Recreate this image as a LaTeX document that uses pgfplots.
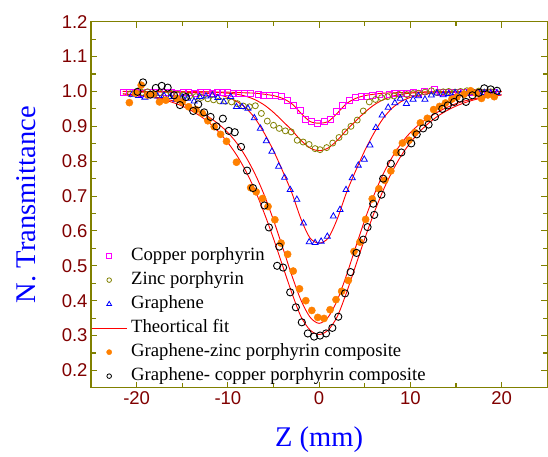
\documentclass[border=0pt]{standalone}
\usepackage{fontspec}
\setmainfont{Liberation Serif}
\newfontfamily\arialf{Liberation Sans}
\usepackage{pgfplots}
\pgfplotsset{compat=1.18}
\definecolor{axolive}{RGB}{128,128,0}
\definecolor{tickred}{RGB}{128,0,0}
\definecolor{orng}{RGB}{255,128,0}
\definecolor{magc}{RGB}{255,0,255}
\definecolor{olv}{RGB}{128,128,0}
\begin{document}
\begin{tikzpicture}
\begin{axis}[name=ax, scale only axis, width=456pt, height=366pt,
  xmin=-25, xmax=25, ymin=0.15, ymax=1.2,
  xtick={-20,-10,0,10,20}, minor xtick={-15,-5,5,15},
  ytick={0.2,0.3,0.4,0.5,0.6,0.7,0.8,0.9,1.0,1.1,1.2},
  minor ytick={0.25,0.35,0.45,0.55,0.65,0.75,0.85,0.95,1.05,1.15},
  tick align=inside, major tick length=6pt, minor tick length=4.5pt,
  axis line style={axolive, line width=1.3pt},
  every tick/.style={axolive, line width=1.1pt},
  ticklabel style={font=\arialf\fontsize{18.5}{20}\selectfont, text=tickred},
  /pgf/number format/assume math mode=true,
  yticklabel style={/pgf/number format/.cd, fixed, fixed zerofill, precision=1},
  xlabel={Z (mm)}, ylabel={N. Transmittance},
  label style={font=\fontsize{28.5}{30}\selectfont, text=blue},
  xlabel style={at={(axis description cs:0.5,0)}, anchor=base, yshift=-59pt},
  ylabel style={at={([xshift=-56pt]axis description cs:0,0.5)}, anchor=base},
  legend style={at={(0,0)}, anchor=south west, xshift=-3pt, yshift=-1pt, draw=none, fill=none,
    font=\fontsize{18.7}{20}\selectfont, row sep=3pt, column sep=2pt,
    nodes={text height=13pt, text depth=4pt, inner sep=2pt}},
  legend cell align=left,
  legend image code/.code={\draw[mark repeat=2,mark phase=2,#1] plot coordinates {(0pt,0pt) (17.5pt,0pt) (35pt,0pt)};},
]
% Copper porphyrin
\addplot[forget plot, only marks, mark=square, mark size=3pt, draw=magc, mark options={line width=0.8pt}] coordinates {
(-21.4,0.998) (-20.8,0.996) (-20.1,0.997) (-19.5,0.995) (-18.8,0.998) (-18.2,0.997) (-17.5,0.996)
(-16.9,0.998) (-16.2,0.997) (-15.6,0.995) (-14.9,0.996) (-14.3,0.997) (-13.6,0.995) (-13.0,0.996)
(-12.3,0.997) (-11.7,0.995) (-11.1,0.996) (-10.6,0.996) (-10.1,0.997) (-9.4,0.995) (-8.8,0.995)
(-8.2,0.995) (-7.5,0.993) (-6.7,0.992) (-6.1,0.990) (-5.5,0.988) (-4.8,0.988) (-4.1,0.985)
(-3.5,0.975) (-2.8,0.961) (-2.1,0.946) (-1.5,0.921) (-0.8,0.913) (-0.15,0.908) (0.58,0.915)
(1.24,0.920) (1.86,0.943) (2.58,0.959) (3.28,0.975) (3.93,0.982) (4.59,0.985) (5.2,0.987)
(5.83,0.988) (6.66,0.991) (7.75,0.992) (8.3,0.995) (9.0,0.993) (9.6,0.995) (10.3,0.996)
(10.9,0.994) (11.57,1.001) (12.66,1.006) (13.3,0.997) (14.0,0.998) (14.6,0.996) (15.3,0.997)
(15.9,0.998) (16.6,0.996) (17.2,0.997) (17.9,0.998) (18.5,0.997) (19.1,0.996)};
% Zinc porphyrin
\addplot[forget plot, only marks, mark=o, mark size=3pt, draw=olv, mark options={line width=0.8pt}] coordinates {
(-20.7,0.993) (-20.1,0.996) (-19.4,0.997) (-18.8,0.999) (-18.1,0.991) (-17.5,0.996) (-16.8,0.990)
(-16.2,0.994) (-15.5,0.992) (-14.85,0.990) (-14.2,0.987) (-13.5,0.985) (-12.9,0.983) (-12.2,0.979)
(-11.57,0.976) (-10.9,0.973) (-10.26,0.972) (-9.6,0.970) (-8.95,0.965) (-8.3,0.958) (-7.64,0.956)
(-6.99,0.959) (-6.33,0.937) (-5.68,0.915) (-5.0,0.903) (-4.37,0.894) (-3.7,0.887) (-3.06,0.884)
(-2.4,0.860) (-1.75,0.855) (-1.1,0.848) (-0.44,0.836) (0.1,0.833) (0.83,0.839) (1.49,0.852)
(2.18,0.868) (2.84,0.884) (3.49,0.900) (4.18,0.918) (4.84,0.944) (5.5,0.970) (6.18,0.977)
(6.83,0.982) (7.5,0.985) (8.2,0.987) (8.8,0.991) (9.6,0.991) (10.3,0.994) (10.9,0.995)
(11.6,0.998) (12.3,1.002) (12.9,0.997) (13.6,0.999) (14.2,1.000) (14.9,0.998) (15.5,1.000)
(16.2,1.002) (16.8,0.999) (17.5,1.001) (18.1,0.998) (18.8,0.999)};
% Graphene
\addplot[forget plot, only marks, mark=triangle, mark size=3.5pt, draw=blue, mark options={line width=0.8pt}] coordinates {
(-20.5,0.991) (-19.8,0.988) (-19.1,0.983) (-18.4,0.987) (-17.7,0.986) (-17.0,0.988) (-16.3,0.985)
(-15.7,0.977) (-15.0,0.983) (-14.4,0.980) (-13.7,0.972) (-13.1,0.985) (-12.4,0.986) (-11.7,0.989)
(-11.1,0.982) (-10.45,0.970) (-9.7,0.985) (-9.06,0.956) (-8.45,0.956) (-7.8,0.951) (-7.1,0.924)
(-6.44,0.894) (-5.79,0.858) (-5.17,0.828) (-4.44,0.785) (-3.79,0.753) (-3.17,0.718) (-2.44,0.690)
(-1.71,0.622) (-1.09,0.568) (-0.44,0.566) (0.22,0.570) (0.9,0.584) (1.56,0.642) (2.29,0.661)
(2.95,0.718) (3.63,0.752) (4.29,0.788) (4.95,0.805) (5.57,0.846) (6.22,0.896) (6.91,0.932)
(7.57,0.954) (8.3,0.967) (8.9,0.980) (9.57,0.965) (10.3,0.977) (10.9,0.987) (11.6,0.977)
(12.3,0.989) (12.9,0.995) (13.6,0.990) (14.2,0.993) (14.9,0.996) (15.5,0.992) (16.2,0.995)
(16.8,0.997) (17.5,0.994) (18.1,0.996) (18.8,0.995) (19.5,0.996)};
% Graphene-zinc porphyrin composite
\addplot[forget plot, only marks, mark=*, mark size=3.6pt, draw=orng, fill=orng] coordinates {
(-20.8,0.968) (-20.1,0.995) (-19.5,1.018) (-18.8,0.990) (-18.2,0.992) (-17.5,0.970) (-16.8,0.975)
(-15.6,0.980) (-15.0,0.970) (-14.3,0.956) (-13.5,0.948) (-12.8,0.937) (-12.2,0.916) (-11.5,0.899)
(-10.8,0.877) (-10.15,0.857) (-9.06,0.797) (-7.5,0.724) (-6.9,0.712) (-6.2,0.693) (-5.6,0.670)
(-4.85,0.632) (-4.17,0.565) (-3.45,0.533) (-2.84,0.485) (-2.15,0.434) (-1.46,0.400) (-0.8,0.372)
(-0.15,0.352) (0.54,0.349) (1.2,0.374) (1.85,0.403) (2.47,0.427) (3.2,0.458) (3.82,0.541)
(4.47,0.568) (5.1,0.633) (5.82,0.692) (6.55,0.721) (7.2,0.745) (7.86,0.772) (8.47,0.825)
(9.13,0.852) (9.86,0.860) (10.5,0.882) (11.1,0.910) (11.86,0.923) (12.55,0.948) (13.2,0.957)
(13.85,0.967) (14.55,0.978) (15.1,0.984) (15.9,0.992) (16.6,1.002) (17.2,0.995) (17.8,0.980)
(18.5,0.990) (19.2,0.985)};
% Graphene- copper porphyrin composite
\addplot[forget plot, only marks, mark=o, mark size=3.6pt, draw=black, mark options={line width=0.9pt}] coordinates {
(-19.9,0.999) (-19.3,1.026) (-18.5,0.991) (-17.9,1.010) (-17.25,1.016) (-16.6,1.011) (-15.9,0.989)
(-15.25,0.961) (-14.6,0.984) (-13.8,0.944) (-13.25,0.963) (-12.6,0.940) (-11.9,0.927) (-11.25,0.900)
(-10.55,0.922) (-9.9,0.887) (-9.25,0.883) (-8.56,0.841) (-7.9,0.773) (-7.25,0.723) (-6.0,0.673)
(-5.5,0.610) (-4.6,0.500) (-4.37,0.555) (-3.95,0.495) (-3.17,0.424) (-2.55,0.381) (-1.9,0.338)
(-1.24,0.306) (-0.55,0.297) (0.1,0.300) (0.76,0.306) (1.45,0.322) (2.1,0.354) (2.84,0.421)
(3.45,0.482) (4.1,0.537) (4.84,0.575) (5.31,0.611) (5.93,0.678) (6.04,0.646) (6.83,0.704)
(7.02,0.750) (7.86,0.793) (9.02,0.825) (10.1,0.851) (10.7,0.877) (11.4,0.894) (12.0,0.905)
(12.7,0.927) (13.5,0.950) (14.1,0.960) (14.8,0.970) (15.4,0.980) (16.1,0.970) (16.8,0.989)
(17.5,0.996) (18.1,1.009) (18.8,1.006) (19.5,1.002)};
% Theoretical fits
\addplot[forget plot, draw=red, line width=0.9pt, smooth] coordinates {
(-21.5,1.0) (-20,1.0) (-18,0.999) (-16,0.999) (-14,0.999) (-12,0.999) (-11,0.998) (-10,0.998)
(-9,0.997) (-8,0.996) (-7,0.995) (-6,0.992) (-5,0.988) (-4,0.980) (-3,0.965) (-2,0.938) (-1,0.914)
(0,0.909) (1,0.914) (2,0.938) (3,0.965) (4,0.980) (5,0.988) (6,0.992) (7,0.995) (8,0.996)
(9,0.997) (10,0.998) (11,0.998) (12,0.999) (14,0.999) (16,0.999) (18,1.0) (20,1.0)};
\addplot[forget plot, draw=red, line width=0.9pt, smooth] coordinates {
(-21.5,1.0) (-20,0.999) (-18,0.999) (-16,0.999) (-14,0.999) (-13,0.999) (-12,0.998) (-11,0.997)
(-10,0.995) (-9,0.992) (-8,0.986) (-7,0.976) (-6,0.961) (-5,0.940) (-4,0.915) (-3,0.889)
(-2,0.860) (-1,0.838) (0,0.830) (1,0.838) (2,0.860) (3,0.889) (4,0.915) (5,0.940) (6,0.961)
(7,0.976) (8,0.986) (9,0.992) (10,0.995) (11,0.997) (12,0.998) (13,0.999) (14,0.999) (16,0.999)
(18,0.999) (20,1.0)};
\addplot[forget plot, draw=red, line width=0.9pt, smooth] coordinates {
(-21.5,1.0) (-20,0.999) (-18,0.999) (-17,0.999) (-16,0.998) (-15,0.998) (-14,0.997) (-13,0.996)
(-12,0.994) (-11,0.990) (-10,0.983) (-9,0.971) (-8,0.952) (-7,0.922) (-6,0.880) (-5,0.830)
(-4,0.772) (-3,0.710) (-2,0.635) (-1,0.580) (0,0.565) (1,0.580) (2,0.635) (3,0.710) (4,0.772)
(5,0.830) (6,0.880) (7,0.922) (8,0.952) (9,0.971) (10,0.983) (11,0.990) (12,0.994) (13,0.996)
(14,0.997) (15,0.998) (16,0.998) (17,0.999) (18,0.999) (20,0.999)};
\addplot[forget plot, draw=red, line width=0.9pt, smooth] coordinates {
(-21.5,0.993) (-21,0.992) (-20,0.990) (-19,0.987) (-18,0.984) (-17,0.979) (-16,0.973) (-15,0.965)
(-14,0.954) (-13,0.941) (-12,0.925) (-11,0.906) (-10,0.882) (-9,0.851) (-8,0.811) (-7,0.762)
(-6,0.702) (-5,0.631) (-4,0.553) (-3,0.473) (-2,0.402) (-1,0.353) (0,0.335) (1,0.353) (2,0.402)
(3,0.473) (4,0.553) (5,0.631) (6,0.702) (7,0.762) (8,0.811) (9,0.851) (10,0.882) (11,0.906)
(12,0.925) (13,0.941) (14,0.954) (15,0.965) (16,0.973) (17,0.979) (18,0.984) (19,0.987) (20,0.990)};
\addplot[forget plot, draw=red, line width=0.9pt, smooth] coordinates {
(-21.5,0.993) (-21,0.992) (-20,0.990) (-19,0.987) (-18,0.982) (-17,0.976) (-16,0.968) (-15,0.958)
(-14,0.945) (-13,0.929) (-12,0.909) (-11,0.884) (-10,0.853) (-9,0.816) (-8,0.770) (-7,0.715)
(-6,0.650) (-5,0.578) (-4,0.500) (-3,0.423) (-2,0.355) (-1,0.316) (0,0.303) (1,0.316) (2,0.355)
(3,0.423) (4,0.500) (5,0.578) (6,0.650) (7,0.715) (8,0.770) (9,0.816) (10,0.853) (11,0.884)
(12,0.909) (13,0.929) (14,0.945) (15,0.958) (16,0.968) (17,0.976) (18,0.982) (19,0.987) (20,0.990)};
% Legend
\addlegendimage{only marks, mark=square, mark size=2.3pt, draw=magc, mark options={line width=0.8pt}}
\addlegendentry{Copper porphyrin}
\addlegendimage{only marks, mark=o, mark size=2.3pt, draw=olv, mark options={line width=0.8pt}}
\addlegendentry{Zinc porphyrin}
\addlegendimage{only marks, mark=triangle, mark size=2.8pt, draw=blue, mark options={line width=0.8pt}}
\addlegendentry{Graphene}
\addlegendimage{draw=red, color=red, line width=0.9pt, no marks}
\addlegendentry{Theortical fit}
\addlegendimage{only marks, mark=*, mark size=2.6pt, draw=orng, fill=orng}
\addlegendentry{Graphene-zinc porphyrin composite}
\addlegendimage{only marks, mark=o, mark size=2.3pt, draw=black, mark options={line width=0.8pt}}
\addlegendentry{Graphene- copper porphyrin composite}
\end{axis}
\path ([shift={(-91pt,-63.3pt)}]ax.south west) rectangle ([shift={(0.8pt,21.7pt)}]ax.north east);
\end{tikzpicture}
\end{document}
